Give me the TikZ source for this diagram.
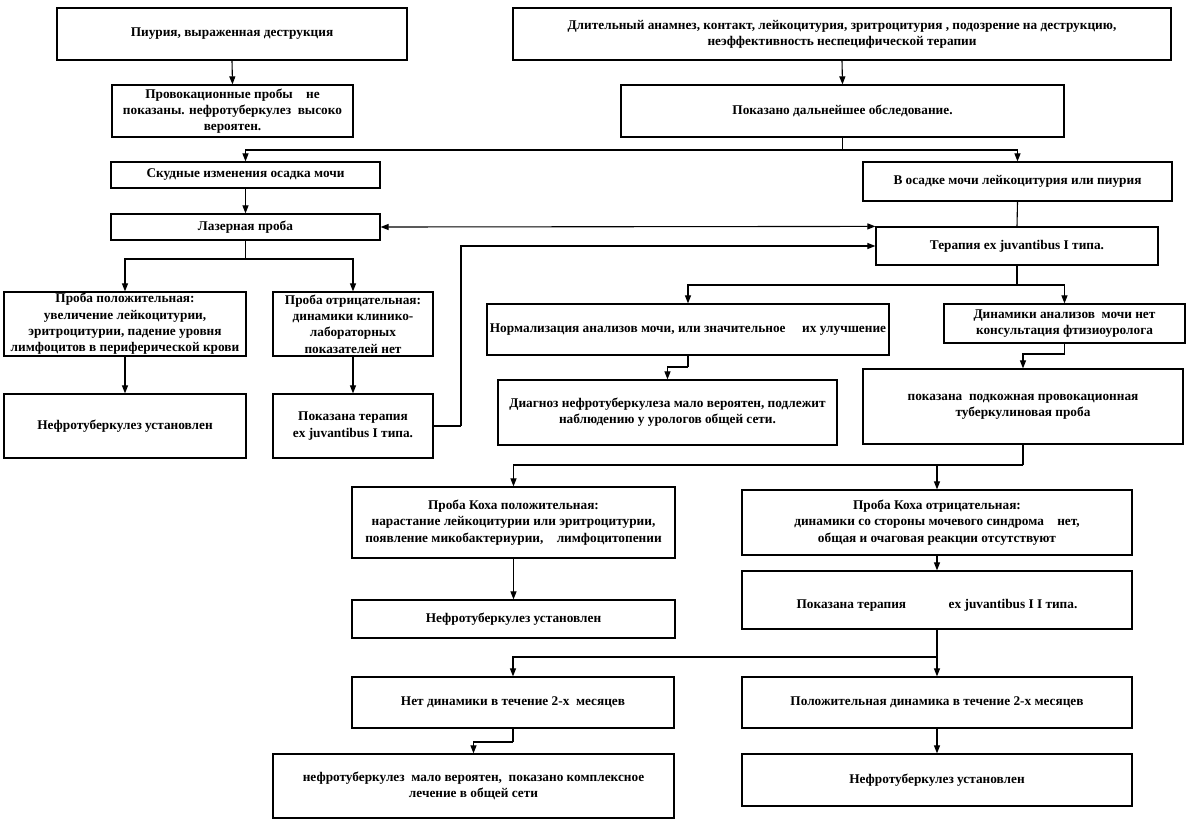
\documentclass[tikz,border=0pt]{standalone}
\usepackage{fontspec}
\setmainfont{Liberation Serif}
\usetikzlibrary{arrows.meta}
\tikzset{
  box/.style={draw, line width=1.2pt, rectangle, inner sep=1pt, align=center, font=\bfseries\fontsize{13.3}{16.3}\selectfont},
  arr/.style={line width=1.1pt, -{Triangle[length=8pt,width=6pt]}},
  ln/.style={line width=1.1pt},
  darr/.style={line width=1.1pt, {Triangle[length=8pt,width=6pt]}-{Triangle[length=8pt,width=6pt]}}
}
\begin{document}
\begin{tikzpicture}[x=1pt,y=-1pt]
\useasboundingbox[fill=white] (0,0) rectangle (1188,820);
% boxes
\node[box, minimum width=350pt, minimum height=52pt] (pi) at (232,34) {Пиурия, выраженная деструкция};
\node[box, minimum width=241pt, minimum height=52pt] (prov) at (232.5,111) {Провокационные пробы\quad не\\показаны. нефротуберкулез\ \ высоко\\вероятен.};
\node[box, minimum width=658pt, minimum height=52pt] (dlit) at (842,34) {Длительный анамнез, контакт, лейкоцитурия, зритроцитурия , подозрение на деструкцию,\\неэффективность неспецифической терапии};
\node[box, minimum width=443pt, minimum height=52pt] (pokd) at (842.5,111) {Показано дальнейшее обследование.};
\node[box, minimum width=269pt, minimum height=26pt] (skud) at (245.5,175) {Скудные изменения осадка мочи};
\node[box, minimum width=309pt, minimum height=39pt] (osad) at (1017.5,181.5) {В осадке мочи лейкоцитурия или пиурия};
\node[box, minimum width=269pt, minimum height=26pt] (lazer) at (245.5,227) {Лазерная проба};
\node[box, minimum width=282pt, minimum height=38pt] (ter) at (1017,246) {Терапия ex juvantibus I типа.};
\node[box, minimum width=242pt, minimum height=64pt] (ppos) at (125,324) {Проба положительная:\\увеличение лейкоцитурии,\\эритроцитурии, падение уровня\\лимфоцитов в периферической крови};
\node[box, minimum width=160pt, minimum height=64pt] (pneg) at (353,324) {Проба отрицательная:\\динамики клинико-\\лабораторных\\показателей нет};
\node[box, minimum width=242pt, minimum height=64pt] (nef1) at (125,426) {Нефротуберкулез установлен};
\node[box, minimum width=160pt, minimum height=64pt] (pter) at (353,426) {Показана терапия\\ex juvantibus I типа.};
\node[box, minimum width=402pt, minimum height=51pt] (norm) at (688,329.5) {Нормализация анализов мочи, или значительное \quad их улучшение};
\node[box, minimum width=241pt, minimum height=39pt] (dyn) at (1064.5,323.5) {Динамики анализов\ \ мочи нет\\консультация фтизиоуролога};
\node[box, minimum width=339pt, minimum height=65pt] (diag) at (667.5,412.5) {Диагноз нефротуберкулеза мало вероятен, подлежит\\наблюдению у урологов общей сети.};
\node[box, minimum width=320pt, minimum height=75pt] (podk) at (1023,406.5) {показана\ \ подкожная провокационная\\туберкулиновая проба};
\node[box, minimum width=323pt, minimum height=71pt] (kpos) at (513.5,522.5) {Проба Коха положительная:\\нарастание лейкоцитурии или эритроцитурии,\\появление микобактериурии,\quad лимфоцитопении};
\node[box, minimum width=390pt, minimum height=65pt] (kneg) at (937,522.5) {Проба Коха отрицательная:\\динамики со стороны мочевого синдрома\quad нет,\\общая и очаговая реакции отсутствуют};
\node[box, minimum width=323pt, minimum height=38pt] (nef2) at (513.5,619) {Нефротуберкулез установлен};
\node[box, minimum width=390pt, minimum height=58pt, text height=18pt, text depth=2pt] (ter2) at (937,600) {Показана терапия\hspace{3.2em}ex juvantibus I I типа.};
\node[box, minimum width=322pt, minimum height=51pt] (netd) at (513,702.5) {Нет динамики в течение 2-х\ \ месяцев};
\node[box, minimum width=390pt, minimum height=51pt] (posd) at (937,702.5) {Положительная динамика в течение 2-х месяцев};
\node[box, minimum width=401pt, minimum height=64pt] (malo) at (473.5,786) {нефротуберкулез\ \ мало вероятен,\ \ показано комплексное\\лечение в общей сети};
\node[box, minimum width=390pt, minimum height=52pt] (nef3) at (937,780) {Нефротуберкулез установлен};
% junctions
\coordinate (j1) at (842.5,150);
\coordinate (j2) at (245.5,259);
\coordinate (j3) at (1017,285);
\coordinate (k1) at (688,367);
\coordinate (k2) at (1064.5,354);
\coordinate (j4) at (1023,465);
\coordinate (j5) at (937,657);
\coordinate (k3) at (513,742);
\coordinate (k4) at (461,426);
% connectors
\draw[arr] (pi.south) -- (prov.north);
\draw[arr] (dlit.south) -- (pokd.north);
\draw[ln] (pokd.south) -- (j1);
\draw[arr] (j1) -| (skud.north);
\draw[arr] (j1) -| (osad.north);
\draw[arr] (skud.south) -- (lazer.north);
\draw[darr] (lazer.east) -- (ter.north west);
\draw[ln] (osad.south) -- (ter.north);
\draw[ln] (lazer.south) -- (j2);
\draw[arr] (j2) -| (ppos.north);
\draw[arr] (j2) -| (pneg.north);
\draw[arr] (ppos.south) -- (nef1.north);
\draw[arr] (pneg.south) -- (pter.north);
\draw[ln] (pter.east) -- (k4);
\draw[arr] (k4) |- (ter.west);
\draw[ln] (ter.south) -- (j3);
\draw[arr] (j3) -| (norm.north);
\draw[arr] (j3) -| (dyn.north);
\draw[ln] (norm.south) -- (k1);
\draw[arr] (k1) -| (diag.north);
\draw[ln] (dyn.south) -- (k2);
\draw[arr] (k2) -| (podk.north);
\draw[ln] (podk.south) -- (j4);
\draw[arr] (j4) -| (kpos.north);
\draw[arr] (j4) -| (kneg.north);
\draw[arr] (kpos.south) -- (nef2.north);
\draw[arr] (kneg.south) -- (ter2.north);
\draw[arr] (ter2.south) -- (posd.north);
\draw[arr] (j5) -| (netd.north);
\draw[ln] (netd.south) -- (k3);
\draw[arr] (k3) -| (malo.north);
\draw[arr] (posd.south) -- (nef3.north);
\end{tikzpicture}
\end{document}
